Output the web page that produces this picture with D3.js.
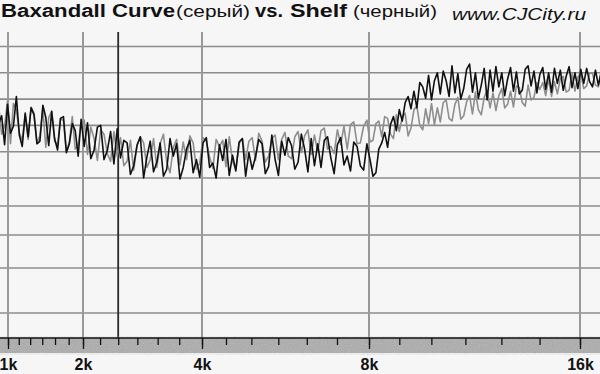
<!DOCTYPE html>
<html>
<head>
<meta charset="utf-8">
<script src="https://cdn.jsdelivr.net/npm/d3@7"></script>
<style>
  body { margin: 0; background: #f6f6f6; }
  svg { display: block; font-family: "Liberation Sans", Arial, sans-serif; }
</style>
</head>
<body>
<svg width="600" height="374"></svg>
<script>
// octave marks and 1/6-octave ticks along the frequency axis
const majorFreqs = [1000, 2000, 4000, 8000, 16000]
const majorLabels = ['1k', '2k', '4k', '8k', '16k']
const minorFreqs = [1000, 1122, 1260, 1414, 1587, 1782, 2000, 2245, 2520, 2828, 3175, 3564,
  4000, 4490, 5040, 5657, 6350, 7127, 8000, 8980, 10079, 11314, 12699, 14254, 16000]
const markerFreq = 2520
const gridDb = [12, 9, 6, 3, 0, -3, -6, -9, -12, -15]

// analyser bins: 200 bins from 900 Hz to 17.5 kHz
const binStart = 900
const binEnd = 17500

// black trace (Shelf), dB per bin
const shelf = [
  3.2, 4.1, 0.8, 5.4, 2.1, 2.9, 6.3, 1.9, 0.6, 4.4,
  1.7, 5.0, 4.2, 0.9, 1.2, 5.3, 3.9, 0.7, 4.6, 1.5,
  0.2, 3.8, 4.0, -0.1, 0.9, 3.2, 2.4, -0.5, 3.7, 0.6,
  3.3, -0.8, 0.2, 2.8, 3.0, -0.9, 0.1, 2.3, -1.4, 2.6,
  -0.7, 1.3, 1.0, -2.6, -1.6, 0.7, 1.7, -3.0, -0.6, 1.2,
  -2.3, -1.2, 1.0, -2.8, -2.0, 1.5, -0.5, 0.9, -3.1, -1.8,
  0.3, 1.3, -2.4, -0.9, -2.9, 1.0, 1.6, -1.8, -1.3, -3.0,
  0.8, -1.0, 1.4, -2.7, -0.4, -2.2, 1.1, 1.5, -2.8, -0.1,
  -2.0, -0.6, 1.4, 0.9, -2.5, -1.7, 1.9, -0.9, -2.7, 1.2,
  -0.4, 1.6, 0.7, -2.0, -1.2, 2.0, 0.3, -2.3, 1.5, -1.6,
  0.9, -1.8, 1.3, 1.7, -0.7, -2.5, 0.8, 1.6, -1.5, -0.5,
  -2.2, 1.1, 0.6, -1.6, -2.1, 0.9, -0.9, -2.8, -2.4, 0.3,
  1.0, 2.2, 0.5, 3.1, 4.0, 2.4, 4.8, 3.5, 5.6, 6.3,
  4.9, 6.9, 5.0, 7.9, 7.4, 6.1, 8.7, 5.9, 8.1, 9.0,
  6.6, 9.2, 8.1, 6.3, 9.8, 6.7, 8.9, 6.0, 7.2, 9.4,
  10.0, 6.8, 9.0, 6.1, 7.6, 9.5, 5.9, 9.3, 6.9, 9.7,
  7.4, 9.0, 6.4, 8.3, 9.6, 6.9, 9.1, 6.6, 7.0, 9.4,
  9.8, 7.5, 9.2, 6.7, 8.8, 9.6, 7.1, 9.0, 6.8, 9.5,
  7.8, 9.3, 7.0, 8.6, 9.7, 7.3, 9.0, 7.2, 9.4, 7.8,
  9.5, 8.0, 7.4, 9.3, 7.6, 9.1, 7.3, 8.9, 9.4, 8.8
]

// grey trace (Baxandall curve), dB per bin
const baxandall = [
  5.2, 2.0, 2.9, 5.8, 0.9, 5.5, 4.8, 2.2, 1.3, 4.2,
  1.4, 5.1, 4.4, 1.0, 1.8, 4.9, 0.5, 3.9, 4.6, 1.2,
  0.7, 3.8, 3.5, -0.1, 1.1, 4.0, 0.3, 0.8, 3.2, 3.6,
  -0.3, 2.8, 1.5, -1.0, 2.5, 2.0, -0.2, -1.1, 2.3, -0.5,
  1.6, -1.6, -1.1, 1.3, -2.1, 0.8, 1.7, 1.0, -1.8, -0.9,
  1.5, -1.8, 0.9, 2.0, -1.2, -2.4, 0.5, 1.4, -1.5, 1.1,
  -0.9, 1.8, 1.0, -2.0, -1.3, 1.6, 1.2, -0.6, -1.9, 1.4,
  0.6, 1.3, -1.7, 1.7, -1.1, -2.0, 0.9, 1.5, -0.9, 1.2,
  1.6, -1.0, 2.1, 1.2, -1.2, -0.5, 1.5, 1.9, -0.9, 1.4,
  2.2, -0.5, -0.8, 1.7, 2.3, -0.1, 1.8, 2.5, -0.3, 1.9,
  0.0, 2.4, 2.7, 0.3, 0.6, -0.2, 2.5, 0.8, 2.9, 0.3,
  3.1, 3.4, 0.9, 1.0, 2.9, 3.6, 1.1, 1.3, 3.2, 3.5,
  1.7, 4.0, 3.8, 2.0, 1.5, 4.2, 2.3, 3.9, 4.4, 1.8,
  2.7, 4.8, 5.2, 3.0, 2.5, 4.9, 3.2, 5.5, 3.1, 5.0,
  3.4, 5.6, 5.9, 3.8, 3.5, 5.4, 6.2, 3.7, 4.1, 5.7,
  6.4, 4.3, 6.8, 4.8, 4.2, 6.2, 7.0, 5.0, 6.7, 4.7,
  6.4, 7.2, 5.0, 5.4, 6.9, 5.1, 7.5, 7.3, 5.6, 5.2,
  7.6, 5.9, 6.2, 7.9, 7.1, 7.9, 6.4, 8.3, 6.3, 8.0,
  6.6, 8.3, 8.6, 6.8, 7.0, 8.9, 6.9, 8.5, 9.0, 7.2,
  7.5, 9.0, 8.9, 7.6, 7.4, 9.2, 7.7, 9.0, 9.1, 7.8
]

const svg = d3.select('svg')
const plotTop = 32
const axisY = 338

// the display is roughly square-root in frequency, joined at each octave
const x = d3.scaleSqrt().domain(majorFreqs).range([8, 83, 202, 369, 580])
const y = d3.scaleLinear().domain([12, -3, -6, -9, -12, -15]).range([46.5, 178, 206, 235, 268, 313])
const bin = d3.scaleLinear().domain([0, shelf.length - 1]).range([Math.sqrt(binStart), Math.sqrt(binEnd)])
const binFreq = i => bin(i) * bin(i)

const defs = svg.append('defs')
defs.append('clipPath').attr('id', 'plot')
  .append('rect').attr('x', 0).attr('y', plotTop).attr('width', 600).attr('height', axisY - plotTop)
const grain = defs.append('filter').attr('id', 'grain')
grain.append('feTurbulence').attr('type', 'fractalNoise').attr('baseFrequency', 0.9).attr('numOctaves', 2)
grain.append('feColorMatrix').attr('type', 'saturate').attr('values', 0)

svg.append('rect').attr('width', 600).attr('height', 374).attr('fill', '#f6f6f6')

// grid
svg.append('g')
  .selectAll('line')
  .data(gridDb)
  .enter()
  .append('line')
  .attr('x1', 0).attr('x2', 600)
  .attr('y1', d => y(d)).attr('y2', d => y(d))
  .attr('stroke', '#8c8c8c')
  .attr('stroke-width', 1.6)

svg.append('g')
  .selectAll('line')
  .data(majorFreqs)
  .enter()
  .append('line')
  .attr('x1', d => x(d)).attr('x2', d => x(d))
  .attr('y1', plotTop).attr('y2', axisY)
  .attr('stroke', '#999')
  .attr('stroke-width', 2)

svg.append('line')
  .attr('x1', x(markerFreq)).attr('x2', x(markerFreq))
  .attr('y1', plotTop).attr('y2', axisY)
  .attr('stroke', '#2a2a2a')
  .attr('stroke-width', 1.8)

// traces
const line = d3.line()
  .x((d, i) => x(binFreq(i)))
  .y(d => y(d))

const traces = svg.append('g').attr('clip-path', 'url(#plot)')
traces.append('path')
  .attr('d', line(baxandall))
  .attr('fill', 'none')
  .attr('stroke', '#8e8e8e')
  .attr('stroke-width', 1.6)
  .attr('stroke-linejoin', 'round')
traces.append('path')
  .attr('d', line(shelf))
  .attr('fill', 'none')
  .attr('stroke', '#111')
  .attr('stroke-width', 1.6)
  .attr('stroke-linejoin', 'round')

// axis band
svg.append('rect').attr('x', 0).attr('y', axisY).attr('width', 600).attr('height', 15).attr('fill', '#acacac')
svg.append('rect').attr('x', 0).attr('y', axisY).attr('width', 600).attr('height', 15)
  .attr('filter', 'url(#grain)').attr('opacity', 0.35)

const minorAxis = svg.append('g')
  .attr('transform', `translate(0,${axisY})`)
  .call(d3.axisBottom(x).tickValues(minorFreqs).tickSize(7).tickFormat(''))
const majorAxis = svg.append('g')
  .attr('transform', `translate(0,${axisY})`)
  .call(d3.axisBottom(x).tickValues(majorFreqs).tickSize(11).tickPadding(9.5)
    .tickFormat((d, i) => majorLabels[i]))
minorAxis.select('.domain').remove()
majorAxis.select('.domain')
  .attr('d', 'M0,0H600')
  .attr('stroke', '#111')
  .attr('stroke-width', 1.5)
svg.selectAll('.tick line').attr('stroke', '#111').attr('stroke-width', 1.3)
majorAxis.selectAll('.tick text')
  .attr('font-family', '"Liberation Sans", Arial, sans-serif')
  .attr('font-size', 16)
  .attr('font-weight', 'bold')
  .attr('fill', '#111')

// title
const titleParts = [
  { text: 'Baxandall Curve', x: 1, w: 174, bold: true, size: 18 },
  { text: '(серый)', x: 176, w: 74, bold: false, size: 16 },
  { text: 'vs.', x: 255, w: 28, bold: true, size: 18 },
  { text: 'Shelf', x: 290, w: 57, bold: true, size: 18 },
  { text: '(черный)', x: 353, w: 84, bold: false, size: 16 }
]
svg.append('g')
  .selectAll('text')
  .data(titleParts)
  .enter()
  .append('text')
  .attr('x', d => d.x)
  .attr('y', 17)
  .attr('textLength', d => d.w)
  .attr('lengthAdjust', 'spacingAndGlyphs')
  .attr('font-size', d => d.size)
  .attr('font-weight', d => d.bold ? 'bold' : 'normal')
  .attr('fill', '#111')
  .text(d => d.text)

svg.append('text')
  .attr('x', 452)
  .attr('y', 20)
  .attr('textLength', 134)
  .attr('lengthAdjust', 'spacingAndGlyphs')
  .attr('font-size', 17)
  .attr('font-style', 'italic')
  .attr('fill', '#111')
  .text('www.CJCity.ru')
</script>
</body>
</html>
